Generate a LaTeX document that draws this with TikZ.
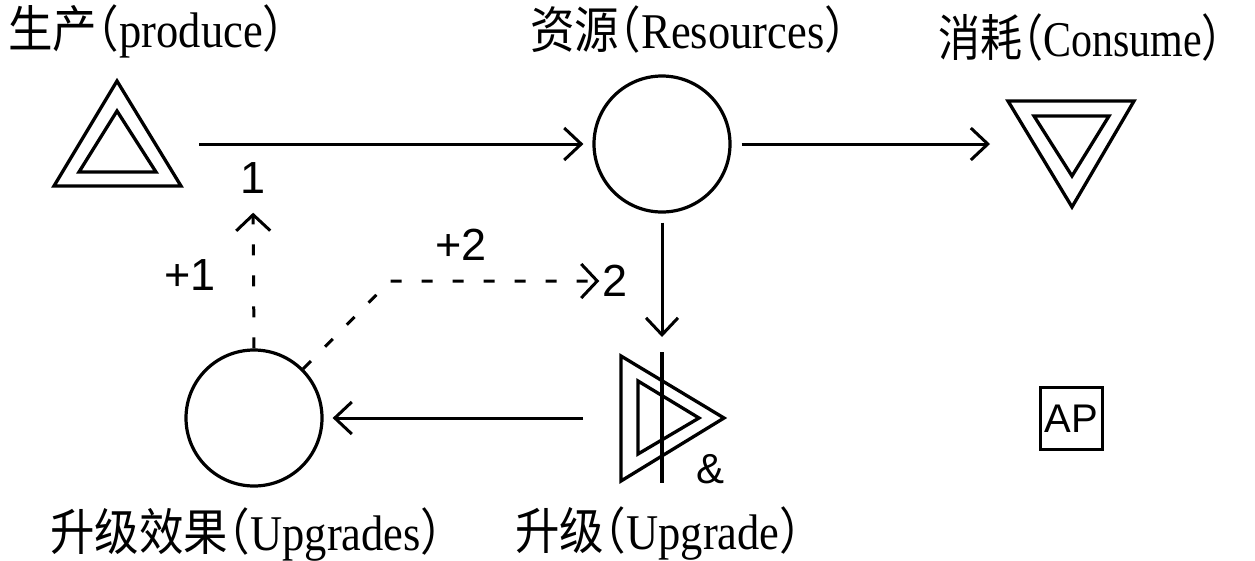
\documentclass[tikz,border=0pt]{standalone}
\usepackage{graphicx}
\usepackage{fontspec}
\setmainfont{Liberation Serif}
\setsansfont{Liberation Sans}
\newfontfamily\cjk{Noto Sans CJK SC}
\usetikzlibrary{arrows.meta}
\newcommand{\mylbl}[3][0.89]{\scalebox{#1}[1]{\fontsize{50}{54}\selectfont{\cjk #2\kern-0.5em（}#3{\cjk ）\kern-0.5em}}}
\begin{document}
\begin{tikzpicture}[x=1pt,y=-1pt,line join=miter,
  hold/.style={draw=none,inner sep=0pt,outer sep=0pt},
  shp/.style={line width=3.3pt},
  flow/.style={line width=3pt,-{Straight Barb[length=17pt,width=32pt]}},
  dflow/.style={line width=3pt,dash pattern=on 11pt off 20pt,-{Straight Barb[length=16pt,width=34pt]}},
  ring/.style={circle,draw,line width=3.2pt,minimum size=136pt,inner sep=0pt},
  num/.style={inner sep=0pt,font=\sffamily\fontsize{45}{46}\selectfont},
  title/.style={anchor=base west,inner sep=0pt}]
\useasboundingbox (0,0) rectangle (1255,560);
% producer
\node[hold,minimum width=164pt,minimum height=120pt] (prod) at (117,144) {};
\draw[shp] (117,81) -- (181,186) -- (54,186) -- cycle;
\draw[shp] (117,111) -- (156,172) -- (79,172) -- cycle;
% resources
\node[ring] (res) at (662,144) {};
% consumer
\node[hold,minimum width=154pt,minimum height=110pt] (cons) at (1072,144) {};
\draw[shp] (1008,101) -- (1134,101) -- (1072,207) -- cycle;
\draw[shp] (1034,116) -- (1109,116) -- (1072,176) -- cycle;
% upgrade gate
\node[hold,minimum width=150pt,minimum height=150pt] (upg) at (662,418) {};
\draw[shp] (621,356) -- (724,418) -- (621,481) -- cycle;
\draw[shp] (638,381) -- (699,418) -- (638,454) -- cycle;
\draw[shp] (662,352) -- (662,483);
\node[inner sep=0pt,anchor=base,font=\sffamily\fontsize{42}{44}\selectfont] (amp) at (710,483) {\&};
% upgrade effect
\node[ring] (eff) at (254,418) {};
% AP
\node[draw,line width=2.6pt,minimum size=62pt,inner sep=0pt,font=\sffamily\fontsize{40}{42}\selectfont] (ap) at (1071.5,418.5) {AP};
% flows
\draw[flow,shorten >=9pt] (prod.east) -- (res.west);
\draw[flow,shorten <=10pt,shorten >=5pt] (res.east) -- (cons.west);
\draw[flow,shorten <=9pt,shorten >=6pt] (res.south) -- (upg.north);
\draw[flow,shorten <=4pt,shorten >=9pt] (upg.west) -- (eff.east);
% modifiers
\node[num] (one) at (253,178) {1};
\node[num] (two) at (615,281) {2};
\node[num] (p1) at (190,275) {+1};
\node[num] (p2) at (461,245) {+2};
\draw[dflow,shorten >=19pt] (eff.north) -- (one.south);
\draw[dflow,shorten >=3pt] (eff.45) -- (390,0 |- two.west) -- (two.west);
% titles
\node[title] (tprod) at (8,47) {\mylbl{生产}{produce}};
\node[title] (tres) at (530,48) {\mylbl{资源}{Resources}};
\node[title] (tcons) at (938,56) {\mylbl[0.84]{消耗}{Consume}};
\node[title] (teff) at (50,550) {\mylbl{升级效果}{Upgrades}};
\node[title] (tupg) at (515,549) {\mylbl{升级}{Upgrade}};
\end{tikzpicture}
\end{document}
